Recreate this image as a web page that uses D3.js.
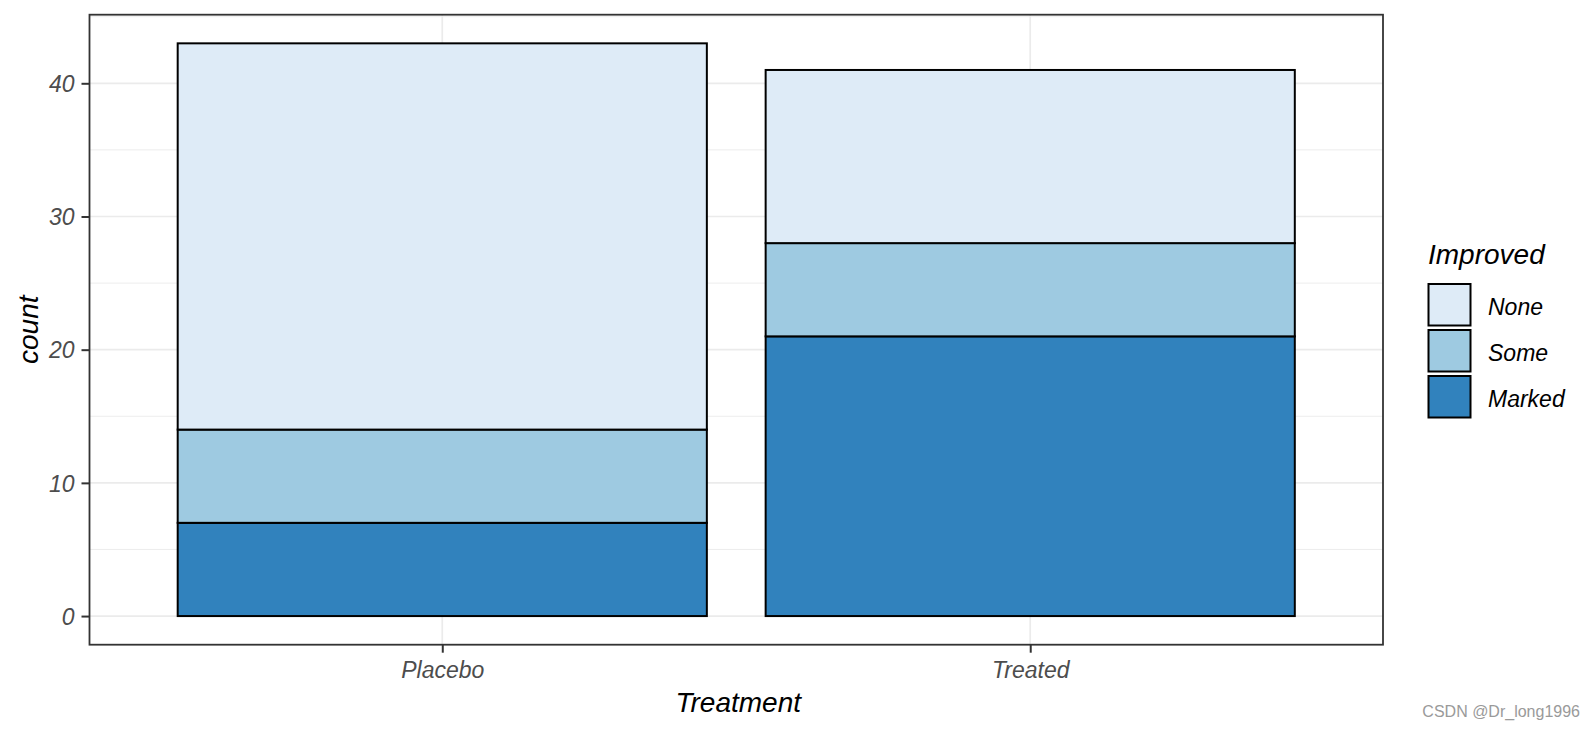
<!DOCTYPE html>
<html>
<head>
<meta charset="utf-8">
<script src="https://cdn.jsdelivr.net/npm/d3@7"></script>
<style>
  html, body { margin: 0; padding: 0; background: #fff; }
  svg { display: block; font-family: "Liberation Sans", Arial, sans-serif; }
</style>
</head>
<body>
<svg id="chart" width="1596" height="732"></svg>
<script>
// ---- data ----
const categories = ["Placebo", "Treated"];
const levels = ["Marked", "Some", "None"];          // stacking order bottom -> top
const legendLevels = ["None", "Some", "Marked"];    // legend order
const valuesMarked = [7, 21];
const valuesSome = [7, 7];
const valuesNone = [29, 13];
const yTicks = [0, 10, 20, 30, 40];
const yMinor = [5, 15, 25, 35, 45];
const colors = { None: "#DEEBF7", Some: "#9ECAE1", Marked: "#3182BD" };

const rows = categories.map((c, i) => ({
  Treatment: c, Marked: valuesMarked[i], Some: valuesSome[i], None: valuesNone[i]
}));

// ---- layout ----
const svg = d3.select("#chart");
const panel = { left: 89.5, right: 1383, top: 14.7, bottom: 644.7 };

const totals = rows.map(r => r.Marked + r.Some + r.None);
const ymax = d3.max(totals);
const pad = ymax * 0.05;

const x = d3.scalePoint().domain(categories).range([panel.left, panel.right]).padding(0.6);
const y = d3.scaleLinear().domain([-pad, ymax + pad]).range([panel.bottom, panel.top]);
const barW = x.step() * 0.9;

// panel background
svg.append("rect").attr("x", panel.left).attr("y", panel.top)
  .attr("width", panel.right - panel.left).attr("height", panel.bottom - panel.top)
  .attr("fill", "#fff");

// grid lines
const grid = svg.append("g");
grid.selectAll(".minor").data(yMinor).join("line")
  .attr("x1", panel.left).attr("x2", panel.right)
  .attr("y1", d => y(d)).attr("y2", d => y(d))
  .attr("stroke", "#EBEBEB").attr("stroke-width", 0.9);
grid.selectAll(".majory").data(yTicks).join("line")
  .attr("x1", panel.left).attr("x2", panel.right)
  .attr("y1", d => y(d)).attr("y2", d => y(d))
  .attr("stroke", "#EBEBEB").attr("stroke-width", 1.7);
grid.selectAll(".majorx").data(categories).join("line")
  .attr("x1", d => x(d)).attr("x2", d => x(d))
  .attr("y1", panel.top).attr("y2", panel.bottom)
  .attr("stroke", "#EBEBEB").attr("stroke-width", 1.7);

// stacked bars
const stack = d3.stack().keys(levels)(rows);
const bars = svg.append("g");
stack.forEach(layer => {
  bars.selectAll(null).data(layer).join("rect")
    .attr("x", d => x(d.data.Treatment) - barW / 2)
    .attr("width", barW)
    .attr("y", d => y(d[1]))
    .attr("height", d => y(d[0]) - y(d[1]))
    .attr("fill", colors[layer.key])
    .attr("stroke", "#000")
    .attr("stroke-width", 2);
});

// panel border
svg.append("rect").attr("x", panel.left).attr("y", panel.top)
  .attr("width", panel.right - panel.left).attr("height", panel.bottom - panel.top)
  .attr("fill", "none").attr("stroke", "#333333").attr("stroke-width", 1.8);

// y axis
const yAxis = svg.append("g").attr("transform", `translate(${panel.left},0)`)
  .call(d3.axisLeft(y).tickValues(yTicks).tickSize(8).tickPadding(7).tickFormat(d3.format("d")));
yAxis.select(".domain").remove();
yAxis.selectAll(".tick line").attr("stroke", "#333333").attr("stroke-width", 2);
yAxis.selectAll(".tick text")
  .attr("fill", "#4D4D4D").style("font-size", "23px").style("font-style", "italic")
  .style("font-family", "'Liberation Sans', Arial, sans-serif").attr("dy", "0.36em");

// x axis
const xAxis = svg.append("g").attr("transform", `translate(0,${panel.bottom})`)
  .call(d3.axisBottom(x).tickSize(8).tickPadding(9));
xAxis.select(".domain").remove();
xAxis.selectAll(".tick line").attr("stroke", "#333333").attr("stroke-width", 2);
xAxis.selectAll(".tick text")
  .attr("fill", "#4D4D4D").style("font-size", "23px").style("font-style", "italic")
  .style("font-family", "'Liberation Sans', Arial, sans-serif");

// axis titles
svg.append("text").attr("x", (panel.left + panel.right) / 2 + 2).attr("y", 711.5)
  .attr("text-anchor", "middle").style("font-size", "28px").style("font-style", "italic")
  .attr("fill", "#000").text("Treatment");
svg.append("text")
  .attr("transform", `translate(38,${(panel.top + panel.bottom) / 2}) rotate(-90)`)
  .attr("text-anchor", "middle").style("font-size", "28px").style("font-style", "italic")
  .attr("fill", "#000").text("count");

// legend
const lg = svg.append("g").attr("transform", "translate(1428,0)");
lg.append("text").attr("x", 0).attr("y", 264).style("font-size", "28px").style("font-style", "italic")
  .attr("fill", "#000").text("Improved");
legendLevels.forEach((k, i) => {
  const top = 284 + i * 46;
  lg.append("rect").attr("x", 0.5).attr("y", top).attr("width", 42).attr("height", 41.5)
    .attr("fill", colors[k]).attr("stroke", "#000").attr("stroke-width", 2);
  lg.append("text").attr("x", 60).attr("y", top + 23).attr("dy", "0.36em")
    .style("font-size", "23px").style("font-style", "italic").attr("fill", "#000").text(k);
});

// watermark
svg.append("text").attr("x", 1580).attr("y", 717).attr("text-anchor", "end")
  .style("font-size", "16px").attr("fill", "#9a9a9a").text("CSDN @Dr_long1996");
</script>
</body>
</html>
